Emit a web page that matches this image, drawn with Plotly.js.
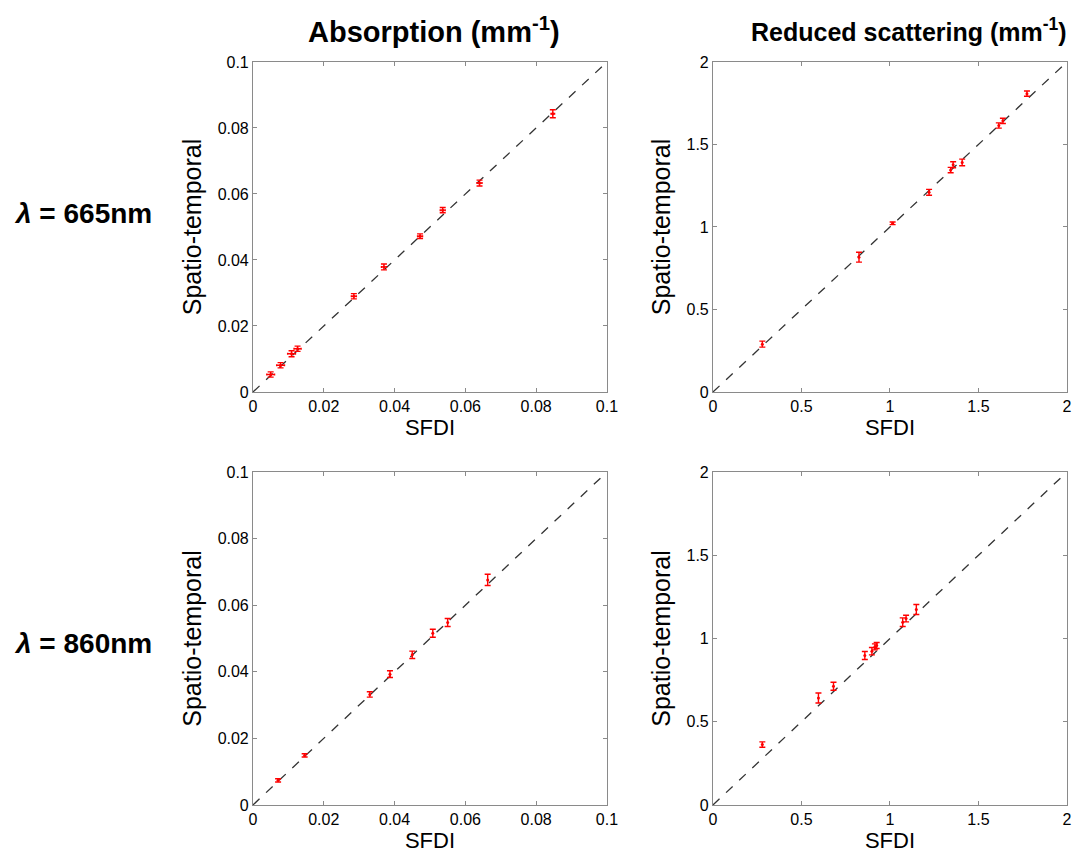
<!DOCTYPE html>
<html>
<head>
<meta charset="utf-8">
<script src="https://cdn.plot.ly/plotly-3.0.1.min.js"></script>
<style>
  html, body { margin: 0; padding: 0; background: #fff; }
  #chart { width: 1076px; height: 857px; }
</style>
</head>
<body>
<div id="chart"></div>
<script>
// ---------- data ----------
const absRange = [0, 0.1];
const scatRange = [0, 2];
const absTicks = [0, 0.02, 0.04, 0.06, 0.08, 0.1];
const absTickText = ['0', '0.02', '0.04', '0.06', '0.08', '0.1'];
const scatTicks = [0, 0.5, 1, 1.5, 2];
const scatTickText = ['0', '0.5', '1', '1.5', '2'];

const columnTitles = ['Absorption (mm<sup>-1</sup>)', 'Reduced scattering (mm<sup>-1</sup>)'];
const rowLabels = ['<i>λ</i> = 665nm', '<i>λ</i> = 860nm'];
const xTitle = 'SFDI';
const yTitle = 'Spatio-temporal';

// 665 nm, absorption
const abs665_sfdi = [0.0050, 0.0078, 0.0109, 0.0126, 0.0285, 0.0370, 0.0472, 0.0536, 0.0640, 0.0847];
const abs665_st   = [0.0053, 0.0081, 0.0116, 0.0131, 0.0290, 0.0379, 0.0472, 0.0551, 0.0633, 0.0843];
const abs665_st_err   = [0.0008, 0.0008, 0.0009, 0.0008, 0.0008, 0.0009, 0.0007, 0.0008, 0.0009, 0.0012];
const abs665_sfdi_err = [0.0011, 0.0011, 0.0011, 0.0010, 0.0007, 0.0007, 0.0007, 0.0007, 0.0007, 0.0005];

// 665 nm, reduced scattering
const sca665_sfdi = [0.279, 0.825, 1.015, 1.221, 1.343, 1.357, 1.408, 1.615, 1.638, 1.774];
const sca665_st   = [0.290, 0.817, 1.022, 1.210, 1.345, 1.377, 1.391, 1.615, 1.643, 1.808];
const sca665_st_err = [0.018, 0.030, 0.008, 0.018, 0.016, 0.018, 0.020, 0.016, 0.016, 0.016];

// 860 nm, absorption
const abs860_sfdi = [0.0071, 0.0146, 0.0330, 0.0387, 0.0450, 0.0508, 0.0550, 0.0663];
const abs860_st   = [0.0074, 0.0149, 0.0332, 0.0393, 0.0451, 0.0516, 0.0548, 0.0676];
const abs860_st_err = [0.0005, 0.0005, 0.0008, 0.0010, 0.0011, 0.0012, 0.0012, 0.0017];

// 860 nm, reduced scattering
const sca860_sfdi = [0.279, 0.596, 0.681, 0.858, 0.898, 0.915, 0.925, 1.072, 1.091, 1.149];
const sca860_st   = [0.363, 0.643, 0.713, 0.898, 0.924, 0.950, 0.958, 1.098, 1.120, 1.174];
const sca860_st_err = [0.016, 0.030, 0.024, 0.024, 0.022, 0.018, 0.018, 0.026, 0.020, 0.030];

// ---------- styling ----------
const RED = 'rgb(255,0,0)';
const FONT = 'Liberation Sans, Arial, Helvetica, sans-serif';

function pointTrace(x, y, ey, ex, xa, ya) {
  const t = {
    x: x, y: y, xaxis: xa, yaxis: ya, type: 'scatter', mode: 'markers',
    marker: {color: RED, size: 3},
    error_y: {type: 'data', array: ey, visible: true, color: RED, thickness: 1.4, width: 3},
    showlegend: false, hoverinfo: 'x+y'
  };
  if (ex) t.error_x = {type: 'data', array: ex, visible: true, color: RED, thickness: 1.4, width: 1};
  return t;
}
function diagTrace(r, xa, ya) {
  return {x: r, y: r, xaxis: xa, yaxis: ya, type: 'scatter', mode: 'lines',
    line: {color: '#333', width: 1.3, dash: 'dash'}, showlegend: false, hoverinfo: 'skip'};
}

const data = [
  diagTrace(absRange, 'x', 'y'),
  pointTrace(abs665_sfdi, abs665_st, abs665_st_err, abs665_sfdi_err, 'x', 'y'),
  diagTrace(scatRange, 'x2', 'y2'),
  pointTrace(sca665_sfdi, sca665_st, sca665_st_err, null, 'x2', 'y2'),
  diagTrace(absRange, 'x3', 'y3'),
  pointTrace(abs860_sfdi, abs860_st, abs860_st_err, null, 'x3', 'y3'),
  diagTrace(scatRange, 'x4', 'y4'),
  pointTrace(sca860_sfdi, sca860_st, sca860_st_err, null, 'x4', 'y4')
];

function ax(range, tv, tt, domain, anchor, title, isY) {
  return {
    domain: domain, anchor: anchor, range: range,
    tickmode: 'array', tickvals: tv, ticktext: tt,
    showline: true, mirror: 'ticks', linecolor: '#8a8a8a', linewidth: 1,
    ticks: 'inside', ticklen: 4, tickcolor: '#8a8a8a', tickwidth: 1,
    tickfont: {family: FONT, size: 16, color: '#000'},
    showgrid: false, zeroline: false, fixedrange: true,
    title: {text: title, font: {family: FONT, size: isY ? 25 : 22, color: '#000'}, standoff: isY ? 8 : 5}
  };
}

const xL = [0.2351, 0.5641], xR = [0.6626, 0.9916];
const yT = [0.5426, 0.9277], yB = [0.0607, 0.4492];

const layout = {
  width: 1076, height: 857,
  margin: {l: 0, r: 0, t: 0, b: 0},
  paper_bgcolor: '#fff', plot_bgcolor: '#fff',
  font: {family: FONT, color: '#000'},
  xaxis:  ax(absRange, absTicks, absTickText, xL, 'y', xTitle, false),
  yaxis:  ax(absRange, absTicks, absTickText, yT, 'x', yTitle, true),
  xaxis2: ax(scatRange, scatTicks, scatTickText, xR, 'y2', xTitle, false),
  yaxis2: ax(scatRange, scatTicks, scatTickText, yT, 'x2', yTitle, true),
  xaxis3: ax(absRange, absTicks, absTickText, xL, 'y3', xTitle, false),
  yaxis3: ax(absRange, absTicks, absTickText, yB, 'x3', yTitle, true),
  xaxis4: ax(scatRange, scatTicks, scatTickText, xR, 'y4', xTitle, false),
  yaxis4: ax(scatRange, scatTicks, scatTickText, yB, 'x4', yTitle, true),
  annotations: [
    {text: '<b>' + columnTitles[0] + '</b>', xref: 'paper', yref: 'paper', x: 434/1076, y: 1 - 30/857,
     xanchor: 'center', yanchor: 'middle', showarrow: false, font: {family: FONT, size: 29, color: '#000'}},
    {text: '<b>' + columnTitles[1] + '</b>', xref: 'paper', yref: 'paper', x: 909/1076, y: 1 - 30/857,
     xanchor: 'center', yanchor: 'middle', showarrow: false, font: {family: FONT, size: 25, color: '#000'}},
    {text: '<b>' + rowLabels[0] + '</b>', xref: 'paper', yref: 'paper', x: 12/1076, y: 1 - 213/857,
     xanchor: 'left', yanchor: 'middle', showarrow: false, font: {family: FONT, size: 28, color: '#000'}},
    {text: '<b>' + rowLabels[1] + '</b>', xref: 'paper', yref: 'paper', x: 12/1076, y: 1 - 643/857,
     xanchor: 'left', yanchor: 'middle', showarrow: false, font: {family: FONT, size: 28, color: '#000'}}
  ]
};

Plotly.newPlot('chart', data, layout, {displayModeBar: false, staticPlot: true});
</script>
</body>
</html>
